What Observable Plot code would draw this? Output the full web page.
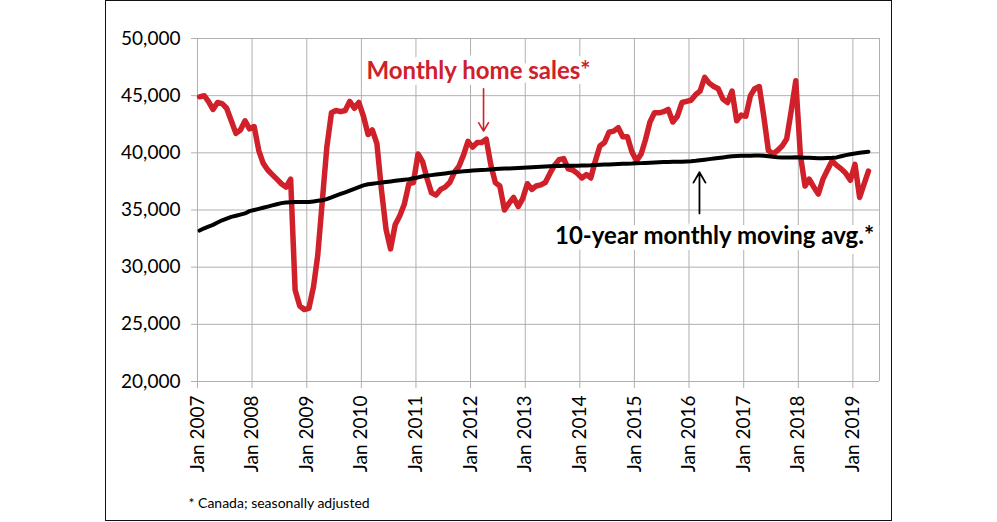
<!DOCTYPE html>
<html>
<head>
<meta charset="utf-8">
<script src="https://cdn.jsdelivr.net/npm/d3@7"></script>
<script src="https://cdn.jsdelivr.net/npm/@observablehq/plot@0.6"></script>
<style>
  html, body { margin: 0; padding: 0; background: #fff; }
  #wrap { position: relative; width: 997px; height: 522px; overflow: hidden; background: #fff; }
  #wrap svg { position: absolute; left: 0; top: 0; }
  #border { position: absolute; left: 105px; top: 0; width: 785px; height: 519px; border: 1px solid #111; pointer-events: none; z-index: 2; }
</style>
</head>
<body>
<div id="wrap"><div id="border"></div></div>
<script>
// ---- Data (Canada, seasonally adjusted; monthly from Jan 2007 to Apr 2019) ----
const startYear = 2007;

const monthlySales = [
  // 2007
  44900, 45000, 44500, 43800, 44400, 44300, 43900, 42800, 41700, 42000, 42800, 42100,
  // 2008
  42300, 40200, 39100, 38500, 38100, 37700, 37300, 37000, 37700, 28000, 26600, 26300,
  // 2009
  26400, 28300, 31000, 35800, 40500, 43500, 43700, 43600, 43700, 44500, 43900, 44400,
  // 2010
  43200, 41600, 42000, 40800, 36800, 33300, 31600, 33700, 34500, 35500, 37300, 37400,
  // 2011
  39900, 39200, 37800, 36500, 36300, 36800, 37000, 37400, 38300, 38800, 39800, 41000,
  // 2012
  40500, 40900, 40900, 41200, 39000, 37400, 37100, 35000, 35600, 36100, 35300, 36000,
  // 2013
  37300, 36800, 37100, 37200, 37400, 38200, 38900, 39400, 39500, 38600, 38500, 38200,
  // 2014
  37800, 38100, 37800, 39300, 40600, 40900, 41800, 41900, 42200, 41400, 41400, 40100,
  // 2015
  39300, 39900, 41100, 42700, 43500, 43500, 43600, 43800, 42700, 43200, 44400, 44500,
  // 2016
  44600, 45100, 45400, 46600, 46100, 45800, 45600, 44700, 44400, 45400, 42800, 43300,
  // 2017
  43200, 45000, 45600, 45800, 43200, 40200, 39900, 40200, 40600, 41200, 43700, 46300,
  // 2018
  39800, 37100, 37700, 37000, 36400, 37700, 38500, 39300, 38900, 38600, 38200, 37600,
  // 2019
  39000, 36100, 37200, 38400
];

const movingAvg10y = [
  // 2007
  33200, 33400, 33550, 33700, 33900, 34100, 34250, 34400, 34500, 34600, 34700, 34900,
  // 2008
  35000, 35100, 35200, 35300, 35400, 35500, 35600, 35650, 35680, 35700, 35700, 35700,
  // 2009
  35700, 35750, 35800, 35850, 35950, 36100, 36250, 36400, 36550, 36700, 36850, 37000,
  // 2010
  37150, 37250, 37300, 37350, 37400, 37450, 37500, 37550, 37600, 37650, 37700, 37780,
  // 2011
  37850, 37950, 38000, 38050, 38100, 38150, 38200, 38250, 38300, 38350, 38380, 38420,
  // 2012
  38450, 38480, 38500, 38520, 38550, 38580, 38600, 38620, 38640, 38660, 38680, 38700,
  // 2013
  38720, 38740, 38760, 38780, 38800, 38820, 38840, 38850, 38860, 38860, 38870, 38880,
  // 2014
  38890, 38900, 38910, 38930, 38950, 38970, 38990, 39010, 39030, 39040, 39050, 39060,
  // 2015
  39080, 39100, 39120, 39140, 39160, 39180, 39190, 39200, 39210, 39220, 39230, 39250,
  // 2016
  39270, 39300, 39350, 39400, 39450, 39500, 39550, 39600, 39650, 39700, 39730, 39750,
  // 2017
  39750, 39740, 39760, 39770, 39750, 39700, 39650, 39620, 39600, 39600, 39600, 39620,
  // 2018
  39600, 39580, 39560, 39540, 39520, 39520, 39540, 39560, 39600, 39700, 39800, 39880,
  // 2019
  39950, 40000, 40050, 40100
];

const tickYears = [2007, 2008, 2009, 2010, 2011, 2012, 2013, 2014, 2015, 2016, 2017, 2018, 2019];
const yTicks = [20000, 25000, 30000, 35000, 40000, 45000, 50000];

const salesLabel = "Monthly home sales*";
const avgLabel = "10-year monthly moving avg.*";
const footnote = "* Canada; seasonally adjusted";

// ---- Build tables ----
const monthDate = (i) => new Date(Date.UTC(startYear, i, 15));
const salesData = monthlySales.map((v, i) => ({date: monthDate(i), value: v}));
const avgData = movingAvg10y.map((v, i) => ({date: monthDate(i), value: v}));
const tickDates = tickYears.map(y => new Date(Date.UTC(y, 0, 1)));

const RED = "#d0202a";
const GRID = "#b0b0b0";
const xDomain = [new Date(Date.UTC(2006, 10, 22)), new Date(Date.UTC(2019, 5, 28))];

const chart = Plot.plot({
  width: 997,
  height: 522,
  marginLeft: 191,
  marginRight: 118,
  marginTop: 38,
  marginBottom: 141,
  style: {fontFamily: "Lato, 'Open Sans', sans-serif", background: "transparent", color: "#000"},
  x: {type: "utc", domain: xDomain},
  y: {domain: [20000, 50000]},
  marks: [
    Plot.gridY(yTicks, {stroke: GRID, strokeOpacity: 1, strokeWidth: 1}),
    Plot.gridX(tickDates, {stroke: GRID, strokeOpacity: 1, strokeWidth: 1}),
    Plot.ruleX([xDomain[1]], {stroke: GRID, strokeWidth: 1}),
    Plot.axisX(tickDates, {
      tickSize: 7, tickPadding: 7, tickRotate: -90, stroke: GRID,
      tickFormat: d => "Jan " + d.getUTCFullYear(), fontSize: 19, fill: "#000"
    }),
    Plot.axisY(yTicks, {
      tickSize: 0, tickPadding: 11, tickFormat: d3.format(","), fontSize: 19, fill: "#000"
    }),
    Plot.line(salesData, {x: "date", y: "value", stroke: RED, strokeWidth: 5.5, strokeLinejoin: "round", strokeLinecap: "round"}),
    Plot.line(avgData, {x: "date", y: "value", stroke: "#000", strokeWidth: 4, strokeLinejoin: "round", strokeLinecap: "round"}),
    // annotation arrows
    Plot.arrow([{x: new Date(Date.UTC(2012, 2, 28)), from: 45600, to: 41900}],
      {x1: "x", x2: "x", y1: "from", y2: "to", stroke: RED, strokeWidth: 1.6, headLength: 9}),
    Plot.arrow([{x: new Date(Date.UTC(2016, 2, 11)), from: 34700, to: 38300}],
      {x1: "x", x2: "x", y1: "from", y2: "to", stroke: "#000", strokeWidth: 1.8, headLength: 10}),
    // annotation labels
    Plot.text([salesLabel], {
      x: () => new Date(Date.UTC(2012, 1, 23)), y: () => 46460, text: d => d,
      fill: RED, stroke: "white", strokeWidth: 12, fontWeight: "bold", fontSize: 24,
      textAnchor: "middle", lineAnchor: "bottom"
    }),
    Plot.text([avgLabel], {
      x: () => new Date(Date.UTC(2016, 5, 20)), y: () => 32040, text: d => d,
      fill: "#000", stroke: "white", strokeWidth: 12, fontWeight: "bold", fontSize: 24,
      textAnchor: "middle", lineAnchor: "bottom"
    }),
    // footnote
    Plot.text([footnote], {
      frameAnchor: "bottom-left", text: d => d, dx: -3, dy: 126,
      textAnchor: "start", lineAnchor: "bottom", fontSize: 14, fill: "#000"
    })
  ]
});

document.getElementById("wrap").insertBefore(chart, document.getElementById("border"));
</script>
</body>
</html>
